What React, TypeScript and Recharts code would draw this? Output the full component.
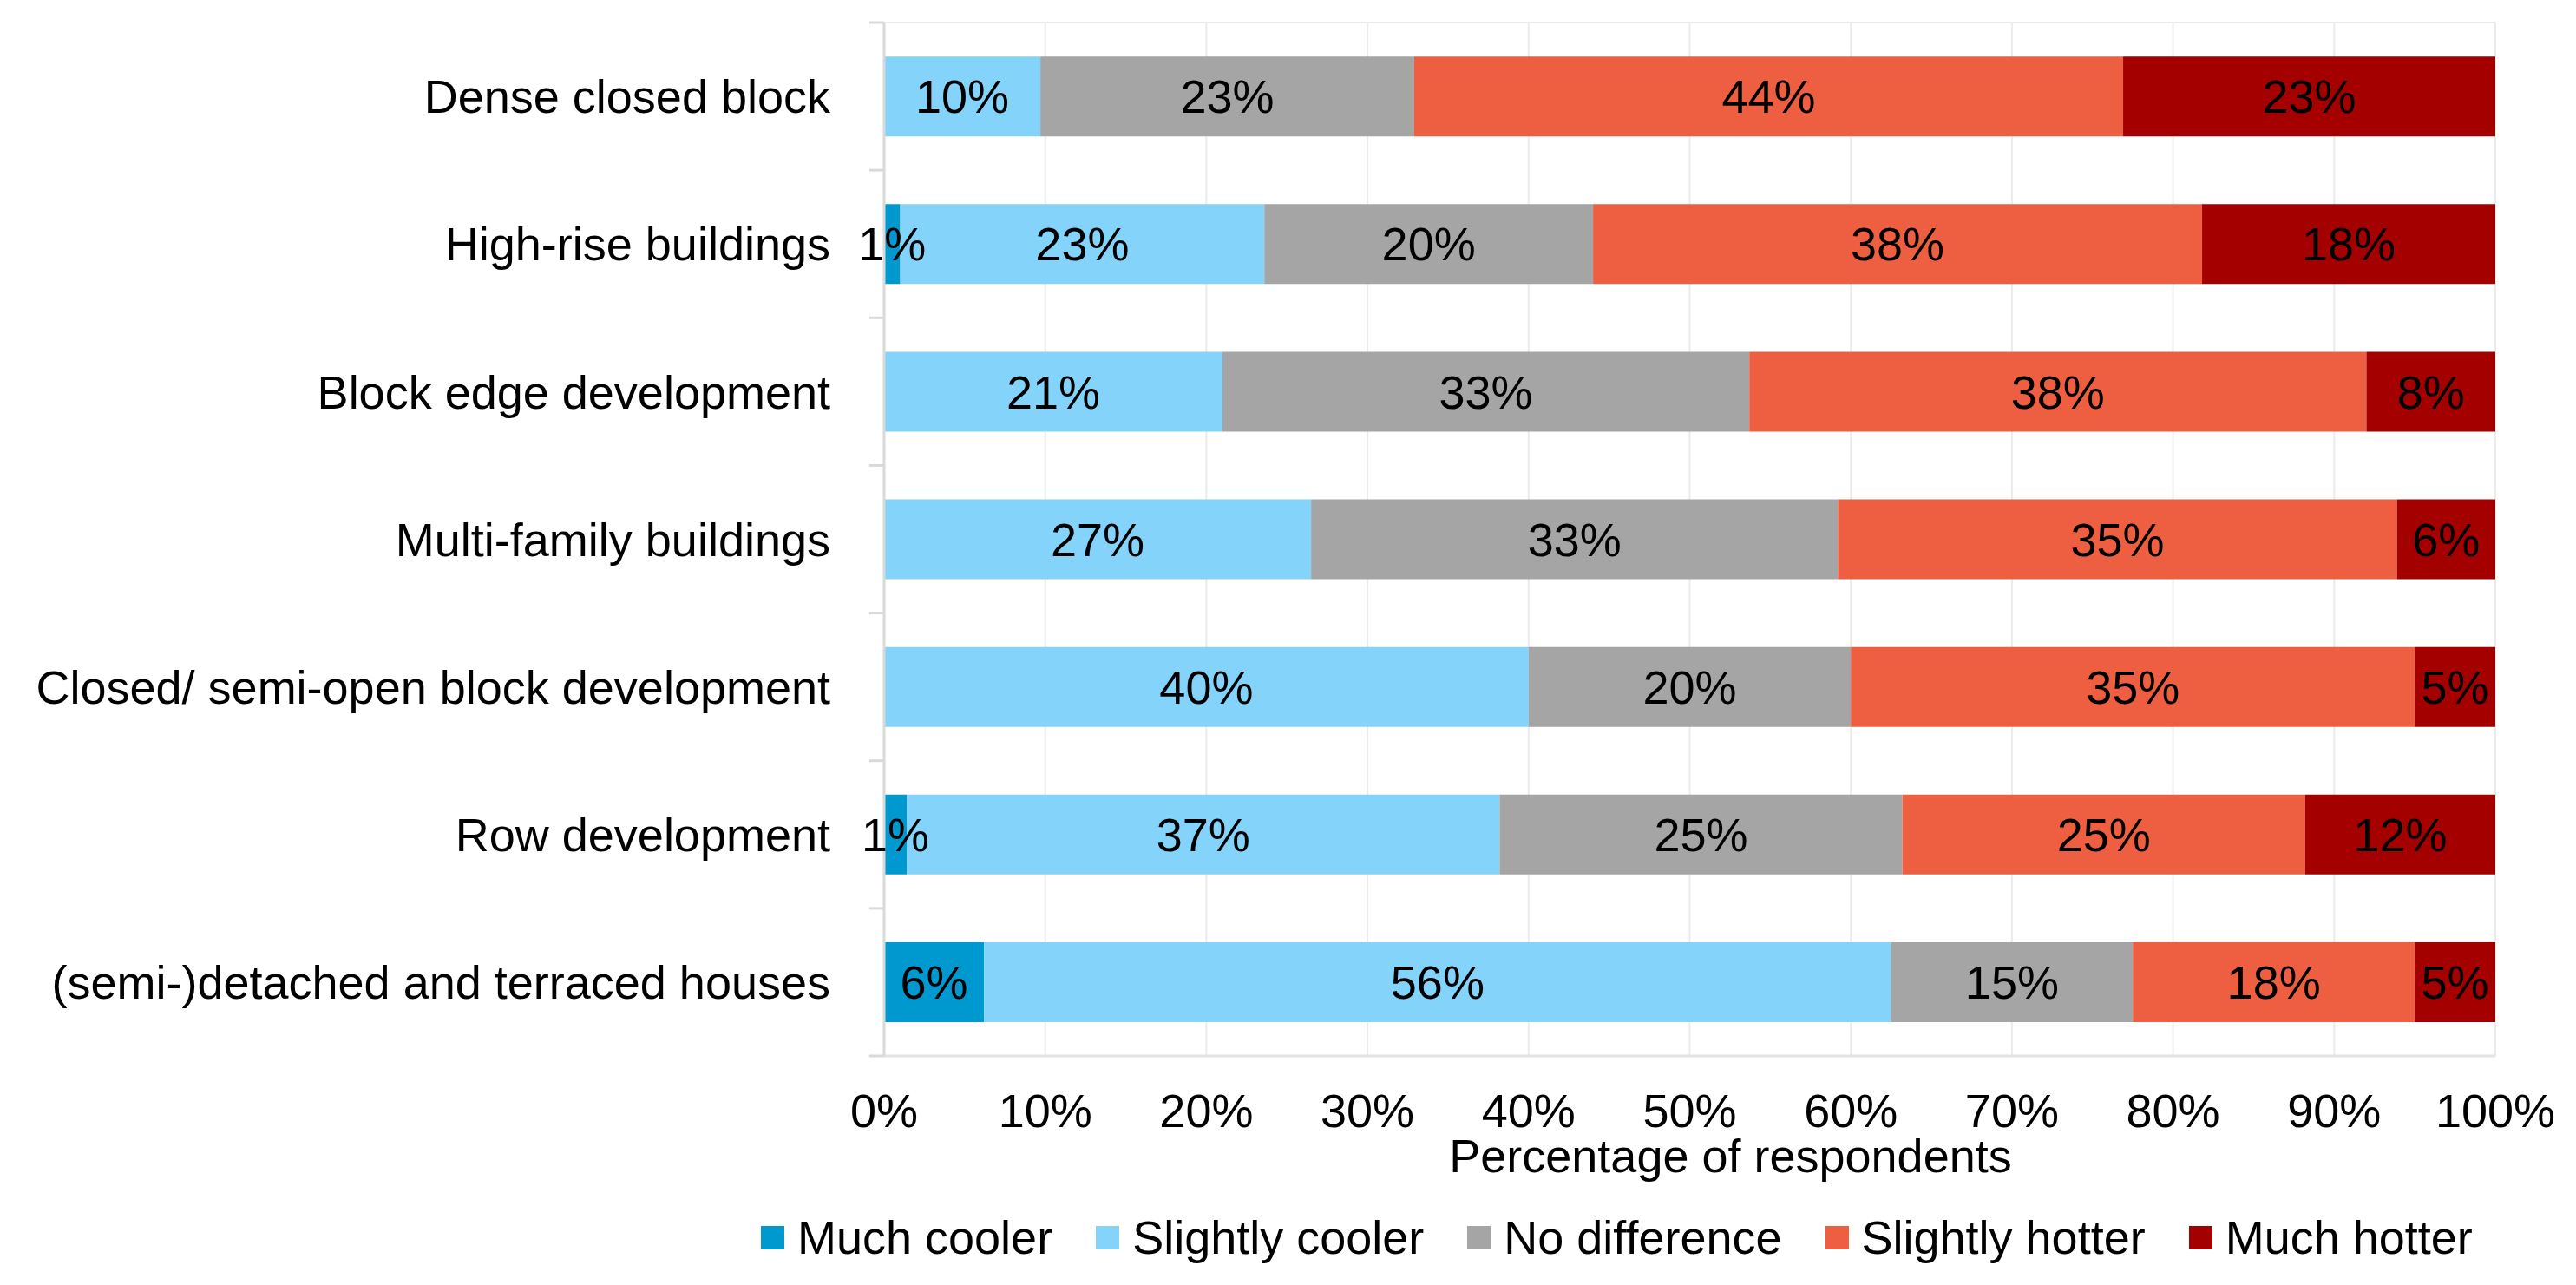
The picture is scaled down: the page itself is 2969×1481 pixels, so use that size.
import React from "react";
import { Bar, BarChart, CartesianGrid, LabelList, XAxis, YAxis } from "recharts";

const categories = [
  "Dense closed block",
  "High-rise buildings",
  "Block edge development",
  "Multi-family buildings",
  "Closed/ semi-open block development",
  "Row development",
  "(semi-)detached and terraced houses",
];

const muchCooler = [0, 1.0, 0, 0, 0, 1.4, 6.2];
const slightlyCooler = [9.7, 22.6, 21.0, 26.5, 40.0, 36.8, 56.3];
const noDifference = [23.2, 20.4, 32.7, 32.7, 20.0, 25.0, 15.0];
const slightlyHotter = [44.0, 37.8, 38.3, 34.7, 35.0, 25.0, 17.5];
const muchHotter = [23.1, 18.2, 8.0, 6.1, 5.0, 11.8, 5.0];

const percentTicks = [0, 10, 20, 30, 40, 50, 60, 70, 80, 90, 100];

const series = [
  { key: "muchCooler", name: "Much cooler", color: "#0099CF", values: muchCooler },
  { key: "slightlyCooler", name: "Slightly cooler", color: "#83D3FB", values: slightlyCooler },
  { key: "noDifference", name: "No difference", color: "#A5A5A5", values: noDifference },
  { key: "slightlyHotter", name: "Slightly hotter", color: "#EE5F41", values: slightlyHotter },
  { key: "muchHotter", name: "Much hotter", color: "#A50000", values: muchHotter },
];

const data = categories.map((name, i) => {
  const row: Record<string, string | number> = { name };
  series.forEach((s) => {
    row[s.key] = s.values[i];
  });
  return row;
});

const FONT = "'Liberation Sans', Arial, sans-serif";
const LABEL_GAP = 62;
const AXIS_GREY = "#D9D9D9";

// category label plus Excel-style tick marks on the band edges
function CategoryTick(props: any) {
  const { x, y, payload, index } = props;
  const axisX = x + LABEL_GAP;
  const half = payload.offset || 0;
  return (
    <g>
      <line x1={axisX} x2={axisX - 17} y1={y - half} y2={y - half} stroke={AXIS_GREY} strokeWidth={3} />
      {index === categories.length - 1 && (
        <line x1={axisX} x2={axisX - 17} y1={y + half} y2={y + half} stroke={AXIS_GREY} strokeWidth={3} />
      )}
      <text x={x} y={y} dy="0.355em" textAnchor="end" fontSize={54} fill="#000">
        {payload.value}
      </text>
    </g>
  );
}

function AxisTitle(props: any) {
  const { x, y, width } = props.viewBox;
  return (
    <text x={x + width / 2 + 47} y={y + 134} textAnchor="middle" fontSize={54} fill="#000">
      Percentage of respondents
    </text>
  );
}

export default function App() {
  return (
    <div style={{ position: "absolute", left: 0, top: 0, width: 2969, height: 1481, fontFamily: FONT, background: "#fff" }}>
      <BarChart
        width={2969}
        height={1481}
        data={data}
        layout="vertical"
        margin={{ top: 26, right: 93, bottom: 0, left: 0 }}
        barCategoryGap="23%"
      >
        <CartesianGrid
          stroke="#EBEBEB"
          strokeWidth={2}
          horizontalCoordinatesGenerator={({ offset }: any) => [offset.top]}
        />
        <XAxis
          type="number"
          domain={[0, 100]}
          ticks={percentTicks}
          tickFormatter={(v) => `${v}%`}
          height={264}
          tickLine={false}
          tickSize={0}
          tickMargin={44}
          axisLine={{ stroke: "#E3E3E3", strokeWidth: 3 }}
          tick={{ fontSize: 54, fill: "#000" }}
          interval={0}
          label={<AxisTitle />}
        />
        <YAxis
          type="category"
          dataKey="name"
          width={1019}
          axisLine={{ stroke: AXIS_GREY, strokeWidth: 3 }}
          tickLine={false}
          tickSize={0}
          tickMargin={LABEL_GAP}
          interval={0}
          tick={<CategoryTick />}
        />
        {series.map((s) => (
          <Bar key={s.key} dataKey={s.key} name={s.name} stackId="a" fill={s.color} isAnimationActive={false}>
            <LabelList
              dataKey={s.key}
              position="center"
              fill="#000"
              fontSize={54}
              formatter={(v: any) => (Number(v) > 0 ? `${Math.round(Number(v))}%` : "")}
            />
          </Bar>
        ))}
      </BarChart>
      <div
        style={{
          position: "absolute",
          left: 877,
          top: 1399,
          display: "flex",
          alignItems: "center",
          fontSize: 54,
          lineHeight: "54px",
          color: "#000",
          whiteSpace: "nowrap",
        }}
      >
        {series.map((s) => (
          <div key={s.key} style={{ display: "flex", alignItems: "center", marginRight: 50 }}>
            <span style={{ width: 27, height: 27, background: s.color, marginRight: 15, display: "inline-block" }} />
            <span>{s.name}</span>
          </div>
        ))}
      </div>
    </div>
  );
}
